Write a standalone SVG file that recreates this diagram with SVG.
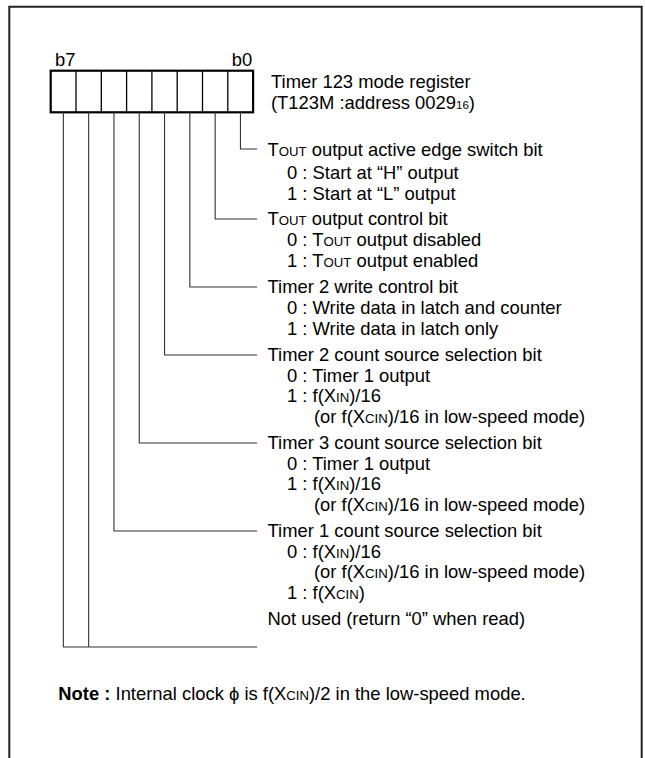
<svg xmlns="http://www.w3.org/2000/svg" width="645" height="758" viewBox="0 0 645 758">
<style>
text{font-family:"Liberation Sans",Arial,sans-serif;font-size:18.4px;fill:#000}
.sc{font-size:13.2px}
.sub{font-size:11.5px}
.b{font-weight:bold}
.frame{fill:none;stroke:#222;stroke-width:2}
.reg{fill:#fff;stroke:#000;stroke-width:2.2}
.div{stroke:#000;stroke-width:1.3}
.ld{fill:none;stroke:#333;stroke-width:1.1}
</style>
<path class="frame" d="M9.3 758V6.7H641.7V758"/>
<g id="register">
<rect class="reg" x="50.7" y="70.7" width="202.4" height="41.6"/>
<path class="div" d="M76 70.7V112.3M101.3 70.7V112.3M126.6 70.7V112.3M151.9 70.7V112.3M177.2 70.7V112.3M202.5 70.7V112.3M227.8 70.7V112.3"/>
<text x="55" y="65.7">b7</text>
<text x="231.7" y="65.7">b0</text>
<text x="271" y="88.3">Timer 123 mode register</text>
<text x="271" y="109.3">(T123M :address 0029<tspan class="sub">16</tspan>)</text>
</g>
<g id="connectors">
<path class="ld" d="M240.45 112.3V149H257"/>
<path class="ld" d="M215.15 112.3V219H257"/>
<path class="ld" d="M189.85 112.3V287H257"/>
<path class="ld" d="M164.55 112.3V355H257"/>
<path class="ld" d="M139.25 112.3V443H257"/>
<path class="ld" d="M113.95 112.3V531H257"/>
<path class="ld" d="M88.65 112.3V647"/>
<path class="ld" d="M63.35 112.3V647H257"/>
</g>
<g id="bit0">
<text x="267.5" y="156">T<tspan class="sc">OUT</tspan> output active edge switch bit</text>
<text x="287" y="179">0 : Start at “H” output</text>
<text x="287" y="199.5">1 : Start at “L” output</text>
</g>
<g id="bit1">
<text x="267.5" y="225">T<tspan class="sc">OUT</tspan> output control bit</text>
<text x="287" y="246">0 : T<tspan class="sc">OUT</tspan> output disabled</text>
<text x="287" y="266.5">1 : T<tspan class="sc">OUT</tspan> output enabled</text>
</g>
<g id="bit2">
<text x="267.5" y="293">Timer 2 write control bit</text>
<text x="287" y="314">0 : Write data in latch and counter</text>
<text x="287" y="334.5">1 : Write data in latch only</text>
</g>
<g id="bit3">
<text x="267.5" y="361">Timer 2 count source selection bit</text>
<text x="287" y="382">0 : Timer 1 output</text>
<text x="287" y="402">1 : f(X<tspan class="sc">IN</tspan>)/16</text>
<text x="314" y="422.5">(or f(X<tspan class="sc">CIN</tspan>)/16 in low-speed mode)</text>
</g>
<g id="bit4">
<text x="267.5" y="449">Timer 3 count source selection bit</text>
<text x="287" y="470">0 : Timer 1 output</text>
<text x="287" y="490">1 : f(X<tspan class="sc">IN</tspan>)/16</text>
<text x="314" y="510.5">(or f(X<tspan class="sc">CIN</tspan>)/16 in low-speed mode)</text>
</g>
<g id="bit5">
<text x="267.5" y="537">Timer 1 count source selection bit</text>
<text x="287" y="558">0 : f(X<tspan class="sc">IN</tspan>)/16</text>
<text x="314" y="578">(or f(X<tspan class="sc">CIN</tspan>)/16 in low-speed mode)</text>
<text x="287" y="598.5">1 : f(X<tspan class="sc">CIN</tspan>)</text>
</g>
<g id="bit67">
<text x="267.5" y="625">Not used (return “0” when read)</text>
</g>
<g id="note">
<text x="58.3" y="700"><tspan class="b">Note :</tspan> Internal clock ϕ is f(X<tspan class="sc">CIN</tspan>)/2 in the low-speed mode.</text>
</g>
</svg>
